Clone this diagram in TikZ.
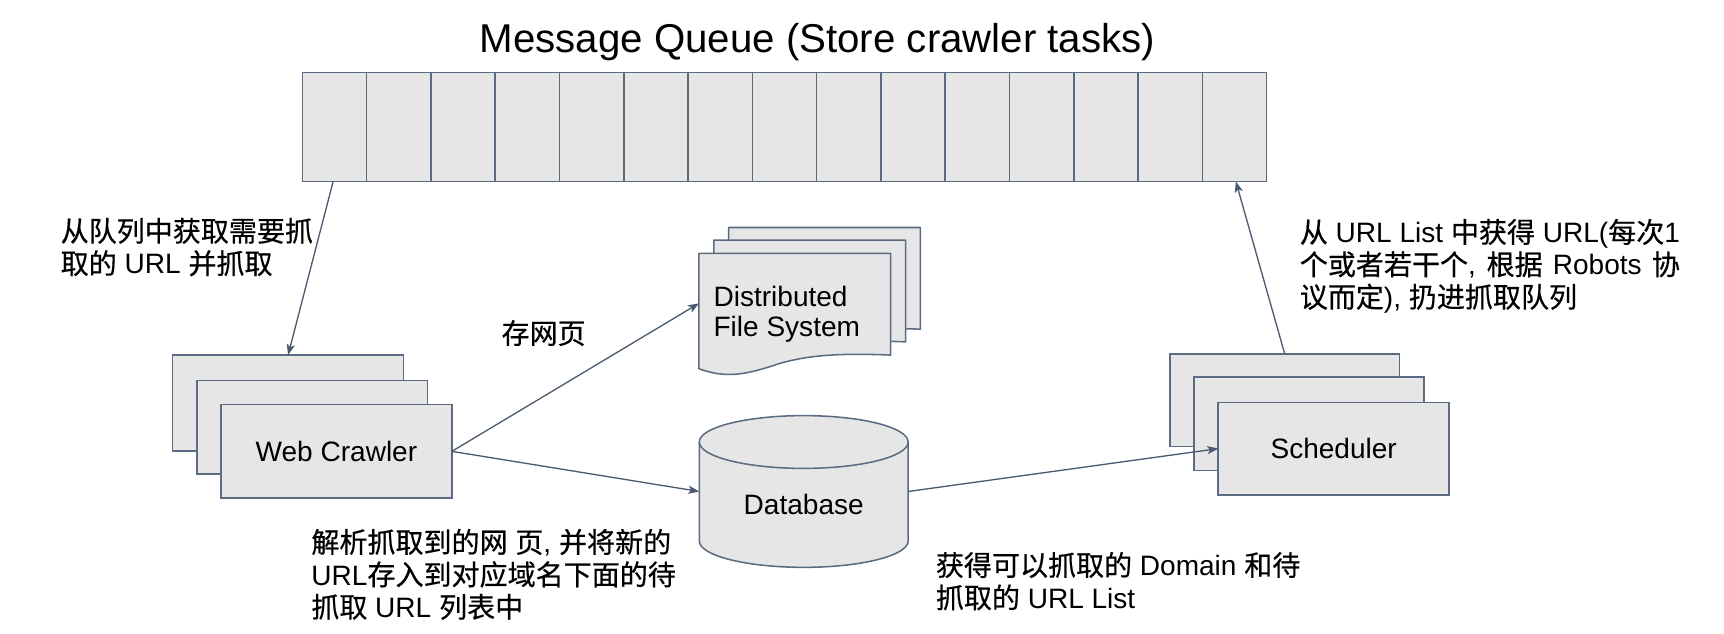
\documentclass[tikz,border=0pt]{standalone}
\usepackage{fontspec}
\setmainfont{Liberation Sans}
\newfontfamily\cjk[FakeBold=0.5]{Noto Sans CJK SC}
\newcommand\zh[1]{{\cjk #1}}
\newcommand\bodyfont{\fontsize{25.5pt}{29.5pt}\selectfont}
\newcommand\dfsfont{\fontsize{25.5pt}{27.3pt}\selectfont}
\newcommand\titlefont{\fontsize{36.6pt}{40pt}\selectfont}
\usetikzlibrary{arrows.meta,calc}
\definecolor{edgec}{HTML}{5B6B82}
\definecolor{arrowc}{HTML}{4A5A70}
\definecolor{boxfill}{HTML}{E6E6E6}
\tikzset{
  box/.style={draw=edgec, fill=boxfill, line width=1.4pt, rectangle, inner sep=0pt, outer sep=0pt, anchor=north west},
  shapeline/.style={draw=edgec, fill=boxfill, line width=1.4pt, line join=round},
  arr/.style={draw=arrowc, line width=1.2pt, -{Stealth[length=10pt,width=7.5pt,inset=2.5pt]}},
  lbl/.style={inner sep=0pt, anchor=base west, font=\bodyfont},
  ghost/.style={draw=none, inner sep=0pt, outer sep=0pt, anchor=north west},
}
\begin{document}
\begin{tikzpicture}[x=1pt,y=-1pt]
\useasboundingbox (0,0) rectangle (1568,576.6);

% title
\node[font=\titlefont, inner sep=0pt, anchor=base] (title) at (743.5,48) {Message Queue (Store crawler tasks)};

% message queue
\node[box, minimum width=877pt, minimum height=99pt] (queue) at (275,66) {};
\foreach \i in {1,...,14} {
  \draw[edgec, line width=1.4pt] ($(queue.north west)+(\i*877/15,0)$) -- ($(queue.south west)+(\i*877/15,0)$);
}

% web crawler stack
\node[box, minimum width=210pt, minimum height=87pt] (wc1) at (157,323) {};
\node[box, minimum width=210pt, minimum height=85pt] (wc2) at (179,346) {};
\node[box, minimum width=210pt, minimum height=85pt, font=\bodyfont] (wc3) at (201,368) {Web Crawler};

% scheduler stack
\node[box, minimum width=209pt, minimum height=84pt] (sch1) at (1064,322) {};
\node[box, minimum width=209pt, minimum height=85pt] (sch2) at (1086,343) {};
\node[box, minimum width=210pt, minimum height=84pt, font=\bodyfont] (sch3) at (1108,366) {Scheduler};

% distributed file system (document stack)
\foreach \dx/\dy in {27/-23.5, 13.5/-12, 0/0} {
  \path[shapeline] ($(635.7,230.4)+(\dx,\dy)$) -- ++(174.4,0) -- ++(0,92.5)
    .. controls +(-40,-1.5) and +(30,-9) .. ++(-102,8)
    .. controls +(-30,10) and +(25,9) .. ++(-72.4,4.5) -- cycle;
}
\node[ghost, minimum width=174.4pt, minimum height=105pt] (dfs3) at (635.7,230.4) {};
\node[font=\dfsfont, inner sep=0pt, anchor=base west] (dfstext) at (648.8,279)
  {\vtop{\hbox{Distributed}\hbox{File System}}};

% database cylinder
\path[shapeline] (636,402) -- (636,492)
  arc[start angle=180, end angle=360, x radius=95pt, y radius=24pt]
  -- (826,402)
  arc[start angle=0, end angle=180, x radius=95pt, y radius=24pt] -- cycle;
\draw[edgec, line width=1.4pt] (636,402)
  arc[start angle=180, end angle=360, x radius=95pt, y radius=24pt];
\node[ghost, minimum width=190pt, minimum height=140pt] (db) at (636,377) {};
\node[font=\bodyfont, inner sep=0pt, anchor=base] (dbtext) at (731,468) {Database};

% connectors
\draw[arr] ($(queue.south west)+(28,0)$) -- (wc1.north);
\draw[arr] (wc3.east) -- ($(dfs3.west)+(0,-7)$);
\draw[arr] (wc3.east) -- (db.west);
\draw[arr] (db.east) -- (sch3.west);
\draw[arr] (sch1.north) -- ($(queue.south east)+(-28,0)$);

% labels
\node[lbl] (l1) at (55,219.6)
  {\vtop{\hbox{\zh{从队列中获取需要抓}}\hbox{\zh{取的} URL \zh{并抓取}}}};
\node[lbl] (l2) at (456,312.6) {\zh{存网页}};
\node[lbl] (l3) at (283,502.6)
  {\vtop{\hbox{\zh{解析抓取到的网} \zh{页}, \zh{并将新的}}\hbox{URL\zh{存入到对应域名下面的待}}\hbox{\zh{抓取} URL \zh{列表中}}}};
\node[lbl] (l4) at (851,523.6)
  {\vtop{\hbox{\zh{获得可以抓取的} Domain \zh{和待}}\hbox{\zh{抓取的} URL List}}};
\node[lbl] (l5) at (1182,220.6)
  {\vtop{\hbox{\zh{从} URL List \zh{中获得} URL(\zh{每次}1}\hbox to 345.7pt{\zh{个或者若干个}, \zh{根据} Robots \zh{协}}\hbox{\zh{议而定}), \zh{扔进抓取队列}}}};
\end{tikzpicture}
\end{document}
